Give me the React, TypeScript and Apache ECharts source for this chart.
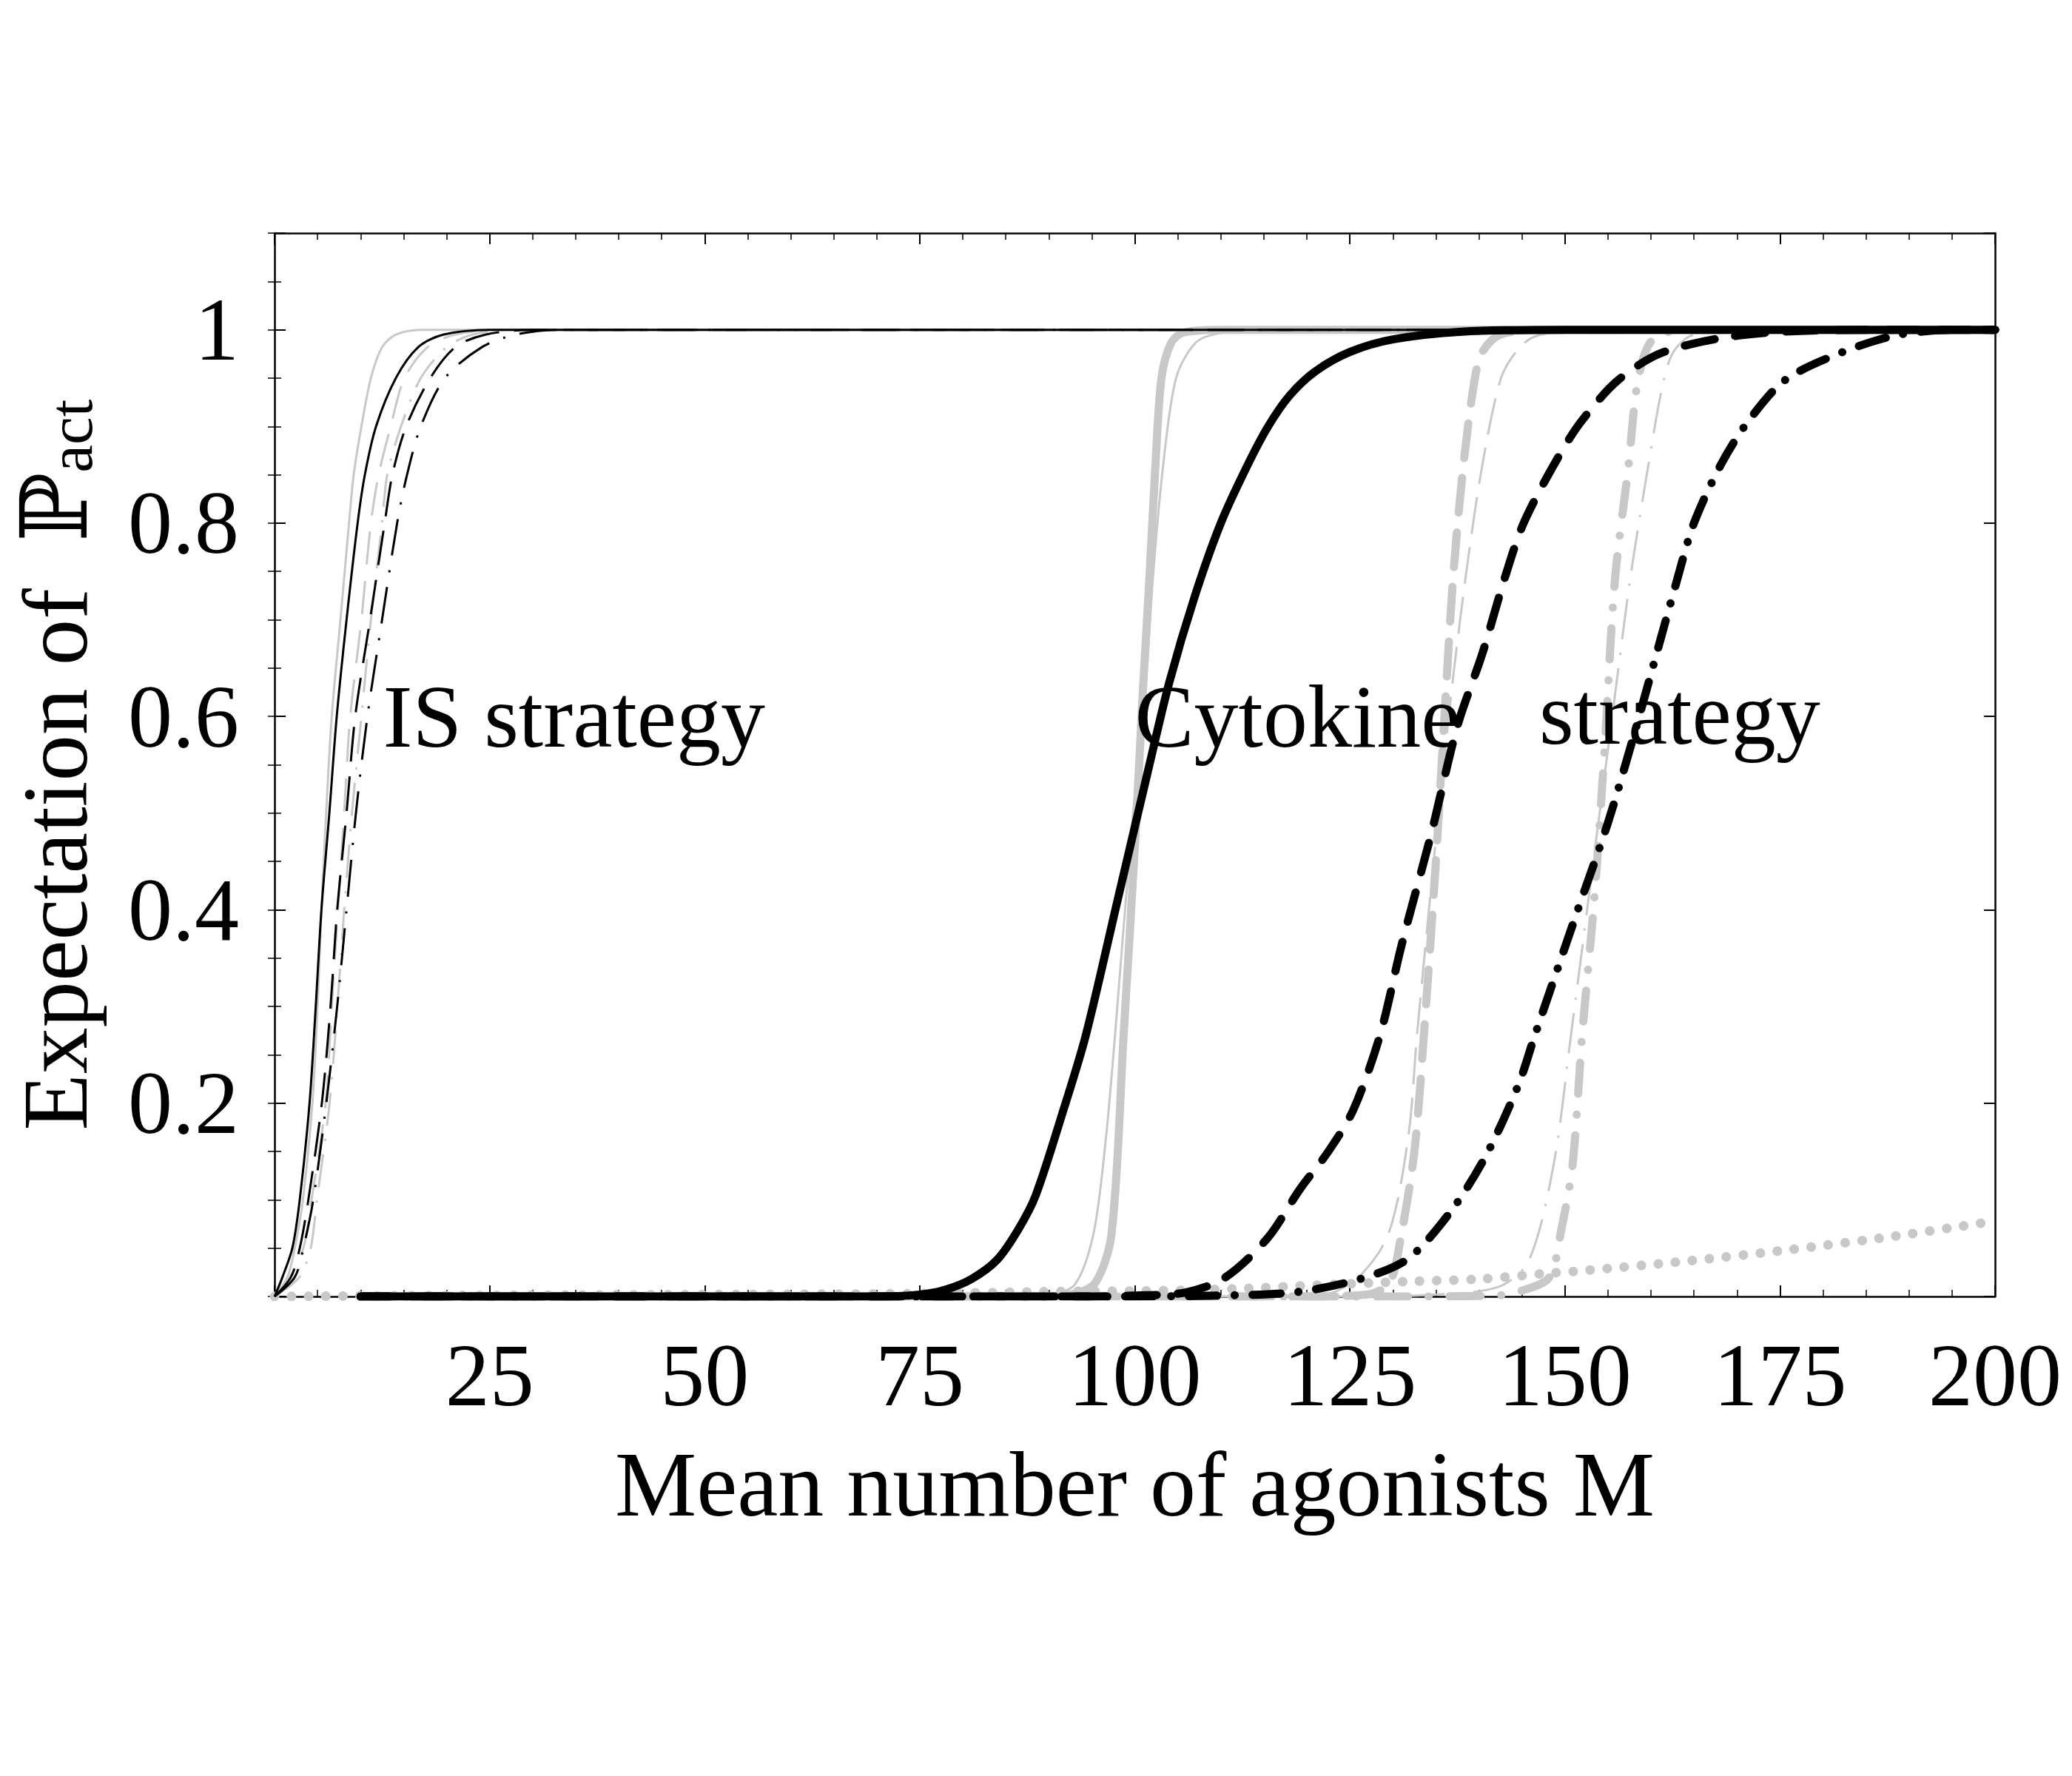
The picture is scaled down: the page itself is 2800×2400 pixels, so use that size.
import React, { useEffect, useRef } from 'react';
import * as echarts from 'echarts';

// ---------- axis labels ----------
const xTickLabels = [25, 50, 75, 100, 125, 150, 175, 200];
const yTickLabels = ['0.2', '0.4', '0.6', '0.8', '1'];
const xTitle = 'Mean number of agonists M';

// ---------- IS strategy curves (thin) ----------
const isGraySolid = [[0,0],[1.5,0.02],[2.35,0.05],[3.3,0.1],[4.4,0.2],[5.0,0.3],[5.45,0.4],[6.0,0.5],[6.65,0.6],[7.66,0.7],[8.66,0.8],[9.2,0.85],[10.1,0.9],[11.2,0.95],[12.5,0.982],[14.1,0.995],[17,1],[200,1]];
const isBlackSolid = [[0,0],[0.92,0.02],[2.07,0.05],[2.93,0.1],[4.07,0.2],[4.79,0.3],[5.45,0.4],[6.37,0.5],[7.23,0.6],[8.37,0.7],[9.66,0.8],[10.5,0.85],[11.8,0.9],[14.1,0.95],[16.7,0.982],[19.6,0.995],[25,1],[200,1]];
const isGrayDashed = [[0,0],[1.8,0.02],[3.35,0.05],[4.3,0.1],[5.94,0.2],[6.65,0.3],[7.37,0.4],[8.09,0.5],[8.8,0.6],[10.1,0.7],[11.2,0.8],[12.1,0.85],[13.5,0.9],[15.1,0.95],[17.8,0.982],[21,0.995],[26,1],[200,1]];
const isBlackDashed = [[0,0],[1.9,0.02],[2.93,0.05],[3.93,0.1],[5.5,0.2],[6.51,0.3],[7.28,0.4],[8.37,0.5],[9.38,0.6],[11.1,0.7],[12.8,0.8],[13.7,0.85],[15.3,0.9],[18.1,0.95],[21,0.982],[24.5,0.995],[30,1],[200,1]];
const isGrayDashDot = [[0,0],[2.9,0.02],[4.2,0.05],[4.93,0.1],[6.4,0.2],[7.3,0.3],[8.1,0.4],[9.0,0.5],[10.1,0.6],[11.2,0.7],[12.5,0.8],[13.1,0.85],[14.7,0.9],[17,0.95],[20,0.982],[23,0.995],[28,1],[200,1]];
const isBlackDashDot = [[0,0],[2.35,0.02],[3.35,0.05],[4.5,0.1],[6.02,0.2],[7.28,0.3],[8.37,0.4],[9.46,0.5],[10.8,0.6],[12.5,0.7],[14.25,0.8],[15.4,0.85],[17,0.9],[19.8,0.95],[24.1,0.982],[28,0.995],[33,1],[200,1]];

// ---------- Cytokine strategy curves ----------
const cyGrayThickSolid = [[10,0],[88,0],[92.5,0.002],[95.4,0.014],[97.3,0.065],[98.7,0.27],[100.1,0.48],[100.9,0.62],[101.7,0.743],[102.4,0.86],[103.1,0.95],[104.2,0.986],[105.6,0.997],[110,1],[200,1]];
const cyGrayThinSolid = [[10,0],[85,0],[90,0.002],[93,0.012],[95.2,0.065],[96.6,0.16],[97.7,0.27],[99.6,0.48],[101.2,0.625],[102.1,0.743],[103.3,0.86],[104.8,0.95],[107,0.986],[109.6,0.996],[115,1],[200,1]];
const cyBlackSolid = [[10,0],[70,0],[75,0.002],[78,0.007],[81,0.018],[84,0.038],[86.5,0.07],[88.5,0.105],[91.6,0.19],[94.3,0.27],[98,0.41],[101.7,0.55],[104,0.635],[107,0.725],[110,0.8],[113,0.858],[115.5,0.9],[118,0.932],[121,0.957],[125,0.977],[130,0.99],[138,0.998],[150,1],[200,1]];
const cyGrayThickDashed = [[10,0],[120,0],[127,0.002],[129.6,0.014],[130.9,0.06],[132.5,0.15],[133.6,0.27],[135,0.45],[136,0.6],[137,0.743],[138.2,0.86],[139.5,0.948],[140.4,0.977],[142.5,0.995],[148,1],[200,1]];
const cyGrayThinDashed = [[10,0],[115,0],[122,0.002],[126,0.02],[129.5,0.065],[131.8,0.166],[132.8,0.27],[135.3,0.5],[137,0.64],[138.7,0.76],[140.4,0.86],[142.5,0.948],[144.3,0.977],[146.5,0.993],[152,1],[200,1]];
const cyBlackDashed = [[10,0],[95,0],[100,0.001],[105.8,0.004],[110.4,0.019],[115.4,0.06],[119.2,0.111],[122.5,0.15],[125.4,0.193],[128.5,0.27],[131,0.363],[134.5,0.48],[137.5,0.59],[140.4,0.665],[143,0.743],[145.2,0.8],[148.7,0.86],[151.8,0.904],[156.2,0.948],[161.5,0.977],[171,0.995],[185,1],[200,1]];
const cyGrayThickDashDot = [[10,0],[130,0],[142,0.001],[145,0.006],[148.2,0.02],[149.6,0.07],[150.9,0.137],[152,0.27],[153.5,0.42],[154.7,0.58],[155.8,0.74],[157.4,0.86],[158.5,0.948],[160.2,0.99],[164,1],[200,1]];
const cyGrayThinDashDot = [[10,0],[125,0],[135,0.002],[142.3,0.01],[145.8,0.037],[148.7,0.137],[150.7,0.27],[153.3,0.45],[155.5,0.6],[157.6,0.743],[159.7,0.86],[161.3,0.94],[162.6,0.977],[165,0.995],[172,1],[200,1]];
const cyBlackDashDot = [[10,0],[95,0],[110,0.001],[119.2,0.005],[126.9,0.02],[131.9,0.04],[136.9,0.09],[140.9,0.147],[144.6,0.219],[146.5,0.27],[151.5,0.4],[155,0.49],[158,0.58],[160.5,0.66],[163,0.74],[165,0.8],[168.1,0.86],[171.2,0.904],[175.6,0.948],[182.3,0.977],[188.9,0.995],[196,1],[200,1]];
const cyGrayDotted = [[0,0],[20,0.001],[50,0.002],[75,0.003],[90,0.005],[103,0.006],[112,0.008],[122,0.012],[132,0.0156],[140,0.018],[148,0.024],[152,0.0266],[164,0.0365],[176,0.0483],[188,0.062],[200,0.078]];

// ---------- annotations (data coordinates of text left/middle) ----------
const annotations = [
  { text: 'IS strategy', x: 12.6, y: 0.6 },
  { text: 'Cytokine', x: 100, y: 0.6 },
  { text: 'strategy', x: 147.0, y: 0.603 },
];

const FONT = '"Liberation Serif", "Times New Roman", "DejaVu Serif", serif';
const GRAY = '#c8c8c8';
const BLACK = '#000000';

function line(name: string, data: number[][], color: string, width: number, type: any, cap: string, z: number) {
  return {
    type: 'line',
    name,
    data,
    xAxisIndex: 0,
    yAxisIndex: 0,
    showSymbol: false,
    symbol: 'none',
    smooth: 0.3,
    silent: true,
    z,
    lineStyle: { color, width, type, cap, join: 'round' },
  };
}

export default function App() {
  const ref = useRef<HTMLDivElement>(null);
  useEffect(() => {
    if (!ref.current) return;
    const chart = echarts.init(ref.current, null, { renderer: 'svg' });

    const axisLine = { show: true, onZero: false, lineStyle: { color: BLACK, width: 2.5 } };
    const majorTick = { show: true, inside: true, length: 15, lineStyle: { color: BLACK, width: 2 } };
    const minorTickX = { show: true, splitNumber: 5, length: 9, lineStyle: { color: BLACK, width: 1.5 } };
    const minorTickY = { show: true, inside: true, length: 9, lineStyle: { color: BLACK, width: 1.5 } };

    const xFormatter = (v: number) => (xTickLabels.includes(Math.round(v)) && Math.abs(v - Math.round(v)) < 1e-6 ? String(Math.round(v)) : '');
    const yFormatter = (v: number) => {
      const r = Math.round(v * 10) / 10;
      const s = String(r);
      return Math.abs(v - r) < 1e-6 && yTickLabels.includes(s) ? s : '';
    };

    const option: any = {
      animation: false,
      backgroundColor: '#ffffff',
      grid: { left: 371, right: 104, top: 315, bottom: 648, containLabel: false },
      xAxis: [
        {
          type: 'value', min: 0, max: 200, interval: 25, position: 'bottom',
          axisLine, axisTick: majorTick, minorTick: minorTickX,
          splitLine: { show: false }, minorSplitLine: { show: false },
          axisLabel: { margin: 46, fontSize: 120, fontFamily: FONT, color: BLACK, formatter: xFormatter },
          name: xTitle, nameLocation: 'middle', nameGap: 192,
          nameTextStyle: { fontSize: 124, fontFamily: FONT, color: BLACK },
        },
        {
          type: 'value', min: 0, max: 200, interval: 25, position: 'top',
          axisLine, axisTick: majorTick, minorTick: minorTickX,
          splitLine: { show: false }, axisLabel: { show: false },
        },
      ],
      yAxis: [
        {
          type: 'value', min: 0, max: 1.1, interval: 0.2, position: 'left',
          axisLine, axisTick: majorTick, splitLine: { show: false },
          axisLabel: { margin: 48, fontSize: 120, fontFamily: FONT, color: BLACK, formatter: yFormatter },
          name: '{a|Expectation of\u00a0 \u2119}{b|act}',
          nameLocation: 'middle', nameRotate: 90, nameGap: 234,
          nameTextStyle: {
            rich: {
              a: { fontSize: 125, fontFamily: FONT, color: BLACK, lineHeight: 125 },
              b: { fontSize: 85, fontFamily: FONT, color: BLACK, lineHeight: 58, verticalAlign: 'bottom' },
            },
          },
        },
        {
          type: 'value', min: 0, max: 1.1, interval: 0.05, position: 'left',
          axisLine: { show: false }, axisTick: minorTickY, splitLine: { show: false }, axisLabel: { show: false },
        },
        {
          type: 'value', min: 0, max: 1.1, interval: 0.2, position: 'right',
          axisLine, axisTick: majorTick, splitLine: { show: false }, axisLabel: { show: false },
        },
        {
          type: 'value', min: 0, max: 1.1, interval: 0.05, position: 'right',
          axisLine: { show: false }, axisTick: minorTickY, splitLine: { show: false }, axisLabel: { show: false },
        },
      ],
      series: [
        // gray first
        line('cytokine gray dotted', cyGrayDotted, GRAY, 13, [0.1, 23], 'round', 2),
        line('cytokine gray thick solid', cyGrayThickSolid, GRAY, 11, 'solid', 'round', 2),
        line('cytokine gray thin solid', cyGrayThinSolid, GRAY, 3, 'solid', 'butt', 2),
        line('cytokine gray thick dashed', cyGrayThickDashed, GRAY, 11, [47, 27], 'round', 2),
        line('cytokine gray thin dashed', cyGrayThinDashed, GRAY, 3, [50, 18], 'butt', 2),
        line('cytokine gray thick dash-dot', cyGrayThickDashDot, GRAY, 11, [42, 28, 0.1, 28], 'round', 2),
        line('cytokine gray thin dash-dot', cyGrayThinDashDot, GRAY, 3, [55, 18, 3, 18], 'butt', 2),
        line('IS gray solid', isGraySolid, GRAY, 3, 'solid', 'butt', 3),
        line('IS gray dashed', isGrayDashed, GRAY, 3, [45, 22], 'butt', 3),
        line('IS gray dash-dot', isGrayDashDot, GRAY, 3, [45, 18, 3, 18], 'butt', 3),
        // black
        line('IS black solid', isBlackSolid, BLACK, 3, 'solid', 'butt', 4),
        line('IS black dashed', isBlackDashed, BLACK, 3, [47, 20], 'butt', 4),
        line('IS black dash-dot', isBlackDashDot, BLACK, 3, [50, 20, 3, 20], 'butt', 4),
        line('cytokine black solid', cyBlackSolid, BLACK, 11, 'solid', 'round', 5),
        line('cytokine black dashed', cyBlackDashed, BLACK, 11, [41, 28], 'round', 5),
        line('cytokine black dash-dot', cyBlackDashDot, BLACK, 11, [38, 24, 0.1, 24], 'round', 5),
      ],
    };
    chart.setOption(option);

    const graphic = annotations.map((a) => {
      const p = chart.convertToPixel({ gridIndex: 0 }, [a.x, a.y]) as number[];
      return {
        type: 'text',
        x: p[0],
        y: p[1],
        z: 100,
        silent: true,
        style: { text: a.text, fontSize: 120, fontFamily: FONT, fill: BLACK, align: 'left', verticalAlign: 'middle' },
      };
    });
    chart.setOption({ graphic });

    return () => chart.dispose();
  }, []);
  return <div ref={ref} style={{ position: 'absolute', left: 0, top: 0, width: 2800, height: 2400 }} />;
}
